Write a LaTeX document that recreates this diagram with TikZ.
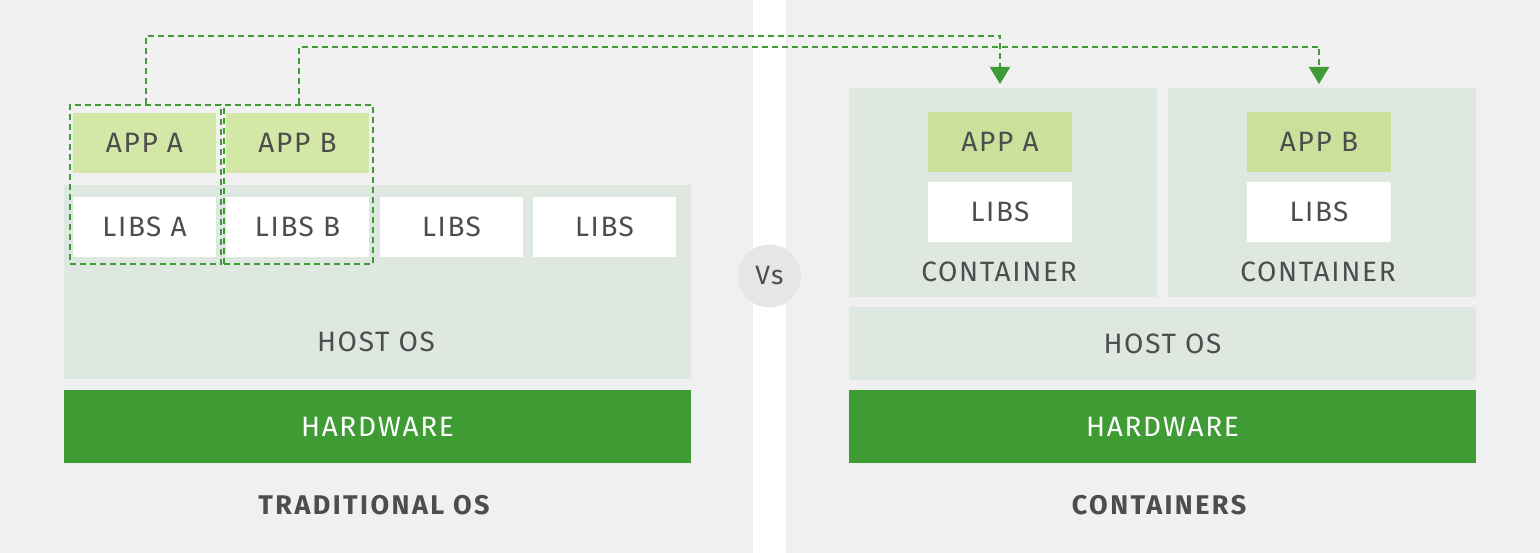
\documentclass[tikz,border=0pt]{standalone}
\usepackage{fontspec}
\setmainfont[LetterSpace=6]{Fira Sans}
\newfontfamily\titlefont[LetterSpace=9]{Fira Sans}
\usetikzlibrary{arrows.meta}
\definecolor{bgc}{HTML}{F0F0F0}
\definecolor{hostc}{HTML}{DFE8E0}
\definecolor{appl}{HTML}{D3E7A6}
\definecolor{appr}{HTML}{C9E19B}
\definecolor{hwc}{HTML}{3F9C35}
\definecolor{txt}{HTML}{4D4D4D}
\definecolor{vsc}{HTML}{E6E6E6}
\tikzset{
  box/.style={anchor=north west, inner sep=0pt, outer sep=0pt, draw=none, text=txt,
    font=\fontsize{28}{32}\selectfont},
  appbox/.style={box, fill=appl},
  appboxr/.style={box, fill=appr},
  libbox/.style={box, fill=white},
  hostbox/.style={box, fill=hostc},
  hwbox/.style={box, fill=hwc, text=white},
  dbox/.style={anchor=north west, inner sep=0pt, draw=hwc, line width=2pt, dash pattern=on 6pt off 4pt},
  conn/.style={draw=hwc, line width=2pt, dash pattern=on 6pt off 4pt, -{Triangle[width=20pt,length=17pt]}},
  lbl/.style={text=txt, font=\fontsize{28}{32}\selectfont, inner sep=0pt},
  title/.style={text=txt, font=\titlefont\bfseries\fontsize{27}{31}\selectfont, inner sep=0pt},
}
\begin{document}
\begin{tikzpicture}[x=1pt,y=-1pt]
\useasboundingbox (0,0) rectangle (1540,553);
% backgrounds
\fill[bgc] (0,0) rectangle (753,553);
\fill[white] (753,0) rectangle (786,553);
\fill[bgc] (786,0) rectangle (1540,553);
% ---------- left: traditional OS ----------
\node[hostbox, minimum width=627pt, minimum height=194pt] (hostL) at (64,185) {};
\node[lbl] (hostLt) at (376,342) {HOST OS};
\node[hwbox, minimum width=627pt, minimum height=73pt] (hwL) at (64,390) {HARDWARE};
\node[appbox, minimum width=143pt, minimum height=60pt] (appLA) at (73,113) {APP A};
\node[appbox, minimum width=143pt, minimum height=60pt] (appLB) at (226,113) {APP B};
\node[libbox, minimum width=143pt, minimum height=60pt] (libLA) at (73,197) {LIBS A};
\node[libbox, minimum width=143pt, minimum height=60pt] (libLB) at (226,197) {LIBS B};
\node[libbox, minimum width=143pt, minimum height=60pt] (libL3) at (380,197) {LIBS};
\node[libbox, minimum width=143pt, minimum height=60pt] (libL4) at (533,197) {LIBS};
\node[dbox, minimum width=151pt, minimum height=159pt] (dA) at (69,104) {};
\node[dbox, minimum width=149pt, minimum height=159pt] (dB) at (223,104) {};
\node[title] (tL) at (374,505) {TRADITIONAL OS};
% ---------- Vs ----------
\node[circle, fill=vsc, minimum size=63pt, inner sep=0pt, text=txt, font=\fontsize{26.5}{30}\selectfont] (vs) at (769.5,276) {Vs};
% ---------- right: containers ----------
\node[hostbox, minimum width=308pt, minimum height=209pt] (c1) at (849,88) {};
\node[hostbox, minimum width=308pt, minimum height=209pt] (c2) at (1168,88) {};
\node[appboxr, minimum width=144pt, minimum height=60pt] (appRA) at (928,112) {APP A};
\node[libbox, minimum width=144pt, minimum height=60pt] (libRA) at (928,182) {LIBS};
\node[appboxr, minimum width=144pt, minimum height=60pt] (appRB) at (1247,112) {APP B};
\node[libbox, minimum width=144pt, minimum height=60pt] (libRB) at (1247,182) {LIBS};
\node[lbl] (c1t) at (999,272) {CONTAINER};
\node[lbl] (c2t) at (1318,272) {CONTAINER};
\node[hostbox, minimum width=627pt, minimum height=73pt] (hostR) at (849,307) {HOST OS};
\node[hwbox, minimum width=627pt, minimum height=73pt] (hwR) at (849,390) {HARDWARE};
\node[title] (tR) at (1159,505) {CONTAINERS};
% ---------- connectors ----------
\coordinate (tipA) at (appRA.north |- 0,84);
\coordinate (tipB) at (appRB.north |- 0,84);
\draw[conn] (dA.north) -- (dA.north |- 0,36) -| (tipA);
\draw[conn] (dB.north) -- (dB.north |- 0,47) -| (tipB);
\end{tikzpicture}
\end{document}
